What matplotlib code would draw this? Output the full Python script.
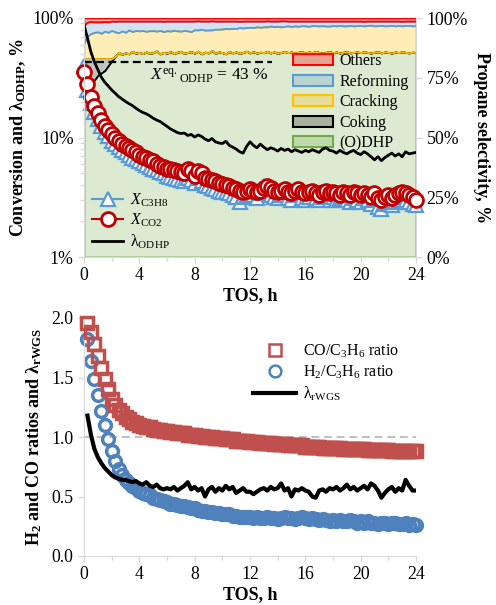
import matplotlib
matplotlib.use('Agg')
import matplotlib.pyplot as plt
import numpy as np
from matplotlib.colors import to_rgba
from matplotlib.patches import Patch

plt.rcParams['font.family'] = ['Liberation Serif', 'DejaVu Serif']
plt.rcParams['mathtext.fontset'] = 'custom'
plt.rcParams['mathtext.rm'] = 'Liberation Serif'
plt.rcParams['mathtext.it'] = 'Liberation Serif:italic'
plt.rcParams['mathtext.bf'] = 'Liberation Serif:bold'

# time on stream, h
tos = [0, 0.25, 0.5, 0.75,
       1, 1.25, 1.5, 1.75,
       2, 2.25, 2.5, 2.75,
       3, 3.25, 3.5, 3.75,
       4, 4.25, 4.5, 4.75,
       5, 5.25, 5.5, 5.75,
       6, 6.25, 6.5, 6.75,
       7, 7.25, 7.5, 7.75,
       8, 8.25, 8.5, 8.75,
       9, 9.25, 9.5, 9.75,
       10, 10.25, 10.5, 10.75,
       11, 11.25, 11.5, 11.75,
       12, 12.25, 12.5, 12.75,
       13, 13.25, 13.5, 13.75,
       14, 14.25, 14.5, 14.75,
       15, 15.25, 15.5, 15.75,
       16, 16.25, 16.5, 16.75,
       17, 17.25, 17.5, 17.75,
       18, 18.25, 18.5, 18.75,
       19, 19.25, 19.5, 19.75,
       20, 20.25, 20.5, 20.75,
       21, 21.25, 21.5, 21.75,
       22, 22.25, 22.5, 22.75,
       23, 23.25, 23.5, 23.75,
       24]

# top panel: conversions and lambda_ODHP, %
x_c3h8 = [40, 25, 19.5, 16.5,
          14.2, 12.5, 11.2, 10.2,
          9.4, 8.8, 8.3, 7.9,
          7.5, 7.1, 6.8, 6.6,
          6.3, 6.1, 5.9, 5.7,
          5.5, 5.3, 5.1, 5.0,
          4.8, 4.7, 4.6, 4.5,
          4.4, 4.3, 4.6, 4.4,
          4.2, 4.6, 4.3, 4.0,
          3.9, 3.8, 3.7, 3.6,
          3.5, 3.5, 3.4, 3.3,
          3.2, 2.9, 3.2, 3.3,
          3.5, 3.3, 3.1, 3.4,
          3.9, 3.5, 3.3, 3.2,
          3.1, 3.3, 3.5, 3.1,
          3.0, 3.3, 3.4, 3.1,
          3.0, 3.2, 3.5, 3.1,
          3.0, 3.2, 3.3, 3.0,
          3.2, 3.0, 3.1, 3.2,
          3.0, 2.9, 3.1, 3.0,
          2.9, 3.1, 3.0, 2.8,
          3.0, 2.6, 2.5, 2.8,
          2.9, 2.7, 2.9, 3.0,
          3.2, 3.0, 2.9, 2.8,
          2.7]

x_co2 = [35, 28, 22, 18.5,
         16, 14, 12.5, 11.5,
         10.6, 10.0, 9.4, 8.9,
         8.5, 8.1, 7.8, 7.5,
         7.2, 6.9, 6.7, 6.5,
         6.3, 6.0, 5.8, 5.7,
         5.5, 5.4, 5.3, 5.2,
         5.1, 5.0, 5.4, 5.2,
         4.8, 5.2, 5.0, 4.6,
         4.5, 4.4, 4.3, 4.2,
         4.1, 4.0, 3.9, 3.8,
         3.7, 3.6, 3.5, 3.6,
         3.7, 3.6, 3.5, 3.6,
         3.8, 3.9, 3.8, 3.6,
         3.5, 3.6, 3.7, 3.5,
         3.4, 3.6, 3.7, 3.5,
         3.4, 3.5, 3.6, 3.4,
         3.3, 3.5, 3.6, 3.4,
         3.5, 3.4, 3.3, 3.5,
         3.4, 3.3, 3.5, 3.4,
         3.3, 3.4, 3.3, 3.2,
         3.4, 3.1, 3.0, 3.2,
         3.3, 3.1, 3.3, 3.4,
         3.5, 3.4, 3.3, 3.2,
         3.0]

lambda_odhp = [88, 68, 52, 43,
               37, 32, 29, 27,
               25, 23.5, 22, 21,
               20, 19.2, 18.5, 17.6,
               16.8, 16.2, 15.8, 15.2,
               14.5, 14.0, 13.6, 13.0,
               12.4, 11.8, 11.4, 11.0,
               10.8, 10.9, 10.4, 10.6,
               10.1, 10.5, 10.2, 9.7,
               9.4, 9.8, 9.2, 9.0,
               8.9, 9.3, 8.6, 8.3,
               8.0, 7.6, 7.4, 8.4,
               9.2, 8.6, 8.2, 8.8,
               8.3, 7.9, 8.2, 8.0,
               7.7, 8.1, 7.8, 8.0,
               7.6, 7.9, 7.7, 7.5,
               7.8, 7.6, 7.9, 7.7,
               7.5, 8.0, 8.2, 7.8,
               7.7, 7.4, 7.8, 7.5,
               7.3, 7.6, 7.8, 7.4,
               7.2, 7.6, 7.3, 6.9,
               6.5, 6.9, 6.4, 6.8,
               7.1, 7.4, 7.0, 7.3,
               6.9, 7.6, 7.3, 7.4,
               7.5]

# propane selectivity, %
sel_odhp = [66, 70, 72, 74,
            76, 77, 78, 80,
            82, 84, 85.6, 84.8,
            85.4, 85.0, 86.0, 85.3,
            85.6, 85.1, 85.8, 85.2,
            85.5, 86.2, 85.0, 85.6,
            85.3, 85.9, 85.1, 85.7,
            86.0, 85.2, 85.6, 85.9,
            85.3, 86.1, 85.0, 85.7,
            85.4, 86.3, 85.2, 85.8,
            85.5, 85.0, 86.0, 85.4,
            85.8, 85.2, 85.6, 86.1,
            85.4, 85.9, 85.3, 85.7,
            85.5, 86.0, 85.4, 85.8,
            85.2, 85.6, 86.0, 85.5,
            85.8, 85.3, 85.7, 85.9,
            85.4, 85.8, 85.5, 86.0,
            85.6, 85.2, 85.7, 85.9,
            85.5, 85.8, 85.3, 85.7,
            85.9, 85.4, 85.6, 85.8,
            85.5, 85.9, 85.6, 85.3,
            85.7, 85.9, 85.4, 85.8,
            85.6, 85.3, 85.8, 85.5,
            85.9, 85.6, 85.4, 85.7,
            85.6]

sel_coking = [17, 13, 11, 9,
              7, 6, 5, 3,
              1, 0, 0, 0,
              0, 0, 0, 0, 0, 0, 0, 0, 0, 0, 0, 0, 0, 0, 0, 0,
              0, 0, 0, 0, 0, 0, 0, 0, 0, 0, 0, 0, 0, 0, 0, 0,
              0, 0, 0, 0, 0, 0, 0, 0, 0, 0, 0, 0, 0, 0, 0, 0,
              0, 0, 0, 0, 0, 0, 0, 0, 0, 0, 0, 0, 0, 0, 0, 0,
              0, 0, 0, 0, 0, 0, 0, 0, 0, 0, 0, 0, 0, 0, 0, 0,
              0, 0, 0, 0, 0]

sel_cracking = [6.5, 9.5, 10.5, 11.0,
                11.2, 10.6, 11.5, 11.0,
                11.8, 10.2, 8.2, 9.8,
                8.6, 10.0, 8.3, 9.5,
                9.0, 9.7, 8.6, 9.5,
                9.2, 8.3, 9.8, 8.7,
                9.4, 8.6, 9.8, 8.9,
                8.5, 9.6, 9.0, 8.4,
                9.8, 8.9, 10.3, 9.2,
                9.6, 8.7, 10.1, 9.5,
                9.9, 10.6, 9.5, 10.3,
                9.8, 10.8, 10.2, 9.9,
                10.7, 10.1, 11.0, 10.4,
                10.8, 10.3, 11.2, 10.6,
                11.3, 10.7, 10.5, 11.2,
                10.6, 11.4, 10.8, 10.9,
                11.3, 10.7, 11.4, 10.8,
                11.1, 11.6, 10.9, 10.7,
                11.4, 10.9, 11.6, 11.0,
                10.8, 11.5, 11.1, 11.0,
                11.4, 10.8, 11.3, 11.7,
                11.0, 10.9, 11.5, 10.9,
                11.2, 11.6, 10.9, 11.4,
                10.8, 11.3, 11.5, 11.0,
                11.2]

sel_reforming = [7.5, 5.8, 5.0, 4.4,
                 4.2, 4.8, 4.0, 4.4,
                 3.9, 4.4, 4.9, 4.1,
                 4.7, 3.7, 4.4, 3.9,
                 4.1, 3.9, 4.3, 4.0,
                 4.0, 4.2, 3.9, 4.3,
                 4.0, 4.2, 3.8, 4.1,
                 4.2, 3.9, 4.1, 4.4,
                 3.6, 3.8, 3.4, 3.8,
                 3.7, 3.8, 3.4, 3.4,
                 3.3, 3.1, 3.2, 3.0,
                 3.1, 2.6, 2.9, 2.7,
                 2.6, 2.7, 2.4, 2.6,
                 2.4, 2.5, 2.1, 2.3,
                 2.2, 2.5, 2.3, 2.0,
                 2.3, 2.0, 2.2, 1.9,
                 2.0, 2.2, 1.8, 1.9,
                 2.0, 1.9, 2.1, 2.1,
                 1.8, 2.0, 1.8, 2.0,
                 2.0, 1.8, 2.0, 1.9,
                 1.8, 1.9, 1.8, 1.7,
                 2.0, 1.9, 1.8, 2.0,
                 1.9, 1.8, 2.0, 1.8,
                 1.9, 1.8, 1.8, 2.0,
                 1.9]

eq_conv = 43        # equilibrium ODHP conversion, %
eq_line_end = 13.6  # h

# bottom panel (from 0.25 h on)
co_c3h6 = [1.96, 1.88, 1.78,
           1.68, 1.58, 1.49, 1.40,
           1.32, 1.27, 1.23, 1.20,
           1.17, 1.15, 1.13, 1.12,
           1.10, 1.09, 1.08, 1.08,
           1.07, 1.06, 1.06, 1.05,
           1.05, 1.04, 1.04, 1.03,
           1.03, 1.03, 1.02, 1.02,
           1.02, 1.01, 1.01, 1.00,
           1.00, 1.00, 0.99, 0.99,
           0.99, 0.98, 0.98, 0.98,
           0.97, 0.97, 0.97, 0.97,
           0.96, 0.96, 0.96, 0.95,
           0.95, 0.95, 0.95, 0.94,
           0.94, 0.94, 0.94, 0.93,
           0.93, 0.93, 0.93, 0.93,
           0.92, 0.92, 0.92, 0.92,
           0.92, 0.91, 0.91, 0.91,
           0.91, 0.91, 0.91, 0.90,
           0.90, 0.90, 0.90, 0.90,
           0.90, 0.90, 0.89, 0.89,
           0.89, 0.89, 0.89, 0.89,
           0.89, 0.88, 0.88, 0.88,
           0.88, 0.88, 0.88, 0.88,
           0.88]

h2_c3h6 = [1.82, 1.64, 1.49,
           1.35, 1.22, 1.10, 0.98,
           0.88, 0.80, 0.73, 0.68,
           0.64, 0.61, 0.59, 0.57,
           0.55, 0.53, 0.52, 0.51,
           0.49, 0.48, 0.47, 0.46,
           0.45, 0.44, 0.44, 0.43,
           0.42, 0.42, 0.41, 0.40,
           0.40, 0.39, 0.38, 0.38,
           0.37, 0.37, 0.36, 0.36,
           0.35, 0.35, 0.35, 0.34,
           0.34, 0.33, 0.33, 0.33,
           0.33, 0.32, 0.33, 0.32,
           0.32, 0.33, 0.32, 0.32,
           0.31, 0.32, 0.33, 0.32,
           0.32, 0.31, 0.32, 0.33,
           0.32, 0.31, 0.32, 0.31,
           0.30, 0.31, 0.30, 0.29,
           0.30, 0.29, 0.30, 0.29,
           0.29, 0.30, 0.29, 0.28,
           0.29, 0.28, 0.29, 0.28,
           0.28, 0.27, 0.28, 0.28,
           0.27, 0.28, 0.28, 0.27,
           0.27, 0.28, 0.26, 0.27,
           0.26]

lambda_rwgs = [1.18, 1.02, 0.90,
               0.83, 0.78, 0.74, 0.71,
               0.68, 0.66, 0.65, 0.64,
               0.64, 0.63, 0.62, 0.63,
               0.61, 0.60, 0.62, 0.59,
               0.58, 0.60, 0.57, 0.56,
               0.57, 0.56, 0.58, 0.55,
               0.57, 0.59, 0.62, 0.56,
               0.58, 0.55, 0.57, 0.50,
               0.56, 0.58, 0.54, 0.57,
               0.55, 0.59, 0.56, 0.58,
               0.53, 0.55, 0.57, 0.54,
               0.54, 0.52, 0.54, 0.56,
               0.57, 0.55, 0.58, 0.56,
               0.57, 0.61, 0.55, 0.57,
               0.50, 0.56, 0.55, 0.57,
               0.55, 0.54, 0.50, 0.49,
               0.55, 0.56, 0.54, 0.57,
               0.56, 0.58, 0.55, 0.57,
               0.60, 0.56, 0.58, 0.55,
               0.57, 0.59, 0.56, 0.61,
               0.59, 0.55, 0.49, 0.53,
               0.56, 0.58, 0.54, 0.57,
               0.55, 0.64, 0.59, 0.55,
               0.55]

unity_ratio = 1.0

x_ticks = [0, 4, 8, 12, 16, 20, 24]
x_minor = [2, 6, 10, 14, 18, 22]
conv_ticks = [1, 10, 100]
conv_labels = ['1%', '10%', '100%']
sel_ticks = [0, 25, 50, 75, 100]
sel_labels = ['0%', '25%', '50%', '75%', '100%']
ratio_ticks = [0.0, 0.5, 1.0, 1.5, 2.0]
ratio_labels = ['0.0', '0.5', '1.0', '1.5', '2.0']

grey = '#D9D9D9'
fs = 13      # axis titles
tfs = 12.8   # tick labels

fig = plt.figure(figsize=(4.96, 6.05), dpi=100)
ax = fig.add_axes([84 / 496, 1 - 257 / 605, 332 / 496, 239 / 605])
ax2 = ax.twinx()
ax.set_zorder(ax2.get_zorder() + 1)
ax.patch.set_visible(False)

# stacked selectivity areas
t = np.array(tos)
layers = [
    (np.array(sel_odhp), '#70AD47', 0.25, '(O)DHP'),
    (np.array(sel_coking), '#000000', 0.24, 'Coking'),
    (np.array(sel_cracking), '#FFC000', 0.28, 'Cracking'),
    (np.array(sel_reforming), '#5B9BD5', 0.28, 'Reforming'),
]
base = np.zeros(len(tos))
handles_sel = []
for vals, col, a, name in layers:
    ax2.fill_between(t, base, base + vals, facecolor=to_rgba(col, a),
                     edgecolor=col, lw=1.3)
    handles_sel.append(Patch(facecolor=to_rgba(col, a), edgecolor=col, lw=1.5, label=name))
    base = base + vals
ax2.fill_between(t, base, 100, facecolor=to_rgba('#FF0000', 0.3), edgecolor='#FF0000', lw=1.3)
handles_sel.append(Patch(facecolor=to_rgba('#FF0000', 0.3), edgecolor='#FF0000', lw=1.5, label='Others'))

ax2.set_ylim(0, 100)
ax2.set_yticks(sel_ticks)
ax2.set_yticklabels(sel_labels)
ax2.set_ylabel('Propane selectivity, %', fontsize=fs, fontweight='bold', rotation=270, labelpad=16)
ax2.legend(handles=handles_sel[::-1], loc='upper left', bbox_to_anchor=(0.63, 0.852),
           frameon=False, fontsize=11.5, handlelength=2.5, handleheight=0.65,
           labelspacing=0.28, handletextpad=0.4, borderpad=0, borderaxespad=0)

# conversion lines
ax.plot(tos, x_c3h8, color='#5B9BD5', lw=1.5, marker='^', ms=9.5, mfc='white',
        mec='#5B9BD5', mew=1.6, clip_on=False, label=r'$X_{\mathrm{C3H8}}$')
ax.plot(tos, x_co2, color='#C00000', lw=1.5, marker='o', ms=10, mfc='white',
        mec='#C00000', mew=2, clip_on=False, label=r'$X_{\mathrm{CO2}}$')
ax.plot(tos, lambda_odhp, color='black', lw=2, label=r'λ$_{\mathrm{ODHP}}$')
ax.hlines(eq_conv, tos[0], eq_line_end, colors='black', linestyles=(0, (3.5, 2)), lw=1.6)
ax.text(9.1, 33, r'$X^{\mathrm{eq.}}{}_{\mathrm{ODHP}}$ = 43 %', fontsize=12.5,
        ha='center', va='center')

ax.set_yscale('log')
ax.set_ylim(1, 100)
ax.set_xlim(0, 24)
ax.set_yticks(conv_ticks)
ax.set_yticklabels(conv_labels)
ax.set_xticks(x_ticks)
ax.set_xticks(x_minor, minor=True)
ax.set_ylabel(r'Conversion and λ$_{\mathbf{ODHP}}$, %', fontsize=fs, fontweight='bold', labelpad=3)
ax.set_xlabel('TOS, h', fontsize=fs, fontweight='bold', labelpad=2)
ax.legend(loc='upper left', bbox_to_anchor=(0.024, 0.275), frameon=False, fontsize=11.5,
          handlelength=1.95, labelspacing=0.2, handletextpad=0.4, borderpad=0, borderaxespad=0)

for a in (ax, ax2):
    for s in a.spines.values():
        s.set_color(grey)
    a.spines['top'].set_visible(False)
    a.tick_params(which='both', color=grey, labelsize=tfs, length=4, width=1)
    a.tick_params(which='minor', length=3)
ax2.spines['left'].set_visible(False)
ax.spines['right'].set_visible(False)

# bottom panel
axb = fig.add_axes([84 / 496, 1 - 556 / 605, 332 / 496, 238 / 605])
tb = tos[1:]
axb.axhline(unity_ratio, color='#BFBFBF', ls=(0, (4, 2.5)), lw=1.4, zorder=1)
axb.plot(tb, h2_c3h6, ls='none', marker='o', ms=8.5, mfc='none', mec='#4F81BD', mew=2.5,
         clip_on=False, zorder=2, label=r'H$_{2}$/C$_{3}$H$_{6}$ ratio')
axb.plot(tb, lambda_rwgs, color='black', lw=3, zorder=3, label=r'λ$_{\mathrm{rWGS}}$')
axb.plot(tb, co_c3h6, ls='none', marker='s', ms=8.5, mfc='none', mec='#C0504D', mew=2.5,
         clip_on=False, zorder=4, label=r'CO/C$_{3}$H$_{6}$ ratio')
hb, lb = axb.get_legend_handles_labels()
order = [2, 0, 1]
leg = axb.legend([hb[i] for i in order], [lb[i] for i in order], loc='upper left',
                 bbox_to_anchor=(0.509, 0.895), frameon=False, fontsize=11.5, handlelength=2.7,
                 labelspacing=0.2, handletextpad=0.4, borderpad=0, borderaxespad=0)
for lh in leg.legend_handles[:2]:
    lh.set_markeredgewidth(1.8)
axb.set_xlim(0, 24)
axb.set_ylim(0, 2)
axb.set_xticks(x_ticks)
axb.set_xticks(x_minor, minor=True)
axb.set_yticks(ratio_ticks)
axb.set_yticklabels(ratio_labels)
axb.set_xlabel('TOS, h', fontsize=fs, fontweight='bold', labelpad=2)
axb.set_ylabel(r'H$_{\mathbf{2}}$ and CO ratios and λ$_{\mathbf{rWGS}}$', fontsize=fs,
               fontweight='bold', labelpad=5)
for s in ['top', 'right']:
    axb.spines[s].set_visible(False)
for s in ['left', 'bottom']:
    axb.spines[s].set_color(grey)
axb.tick_params(which='both', color=grey, labelsize=tfs, length=4, width=1)
axb.tick_params(which='minor', length=3)

fig.savefig('out.png', dpi=100)
